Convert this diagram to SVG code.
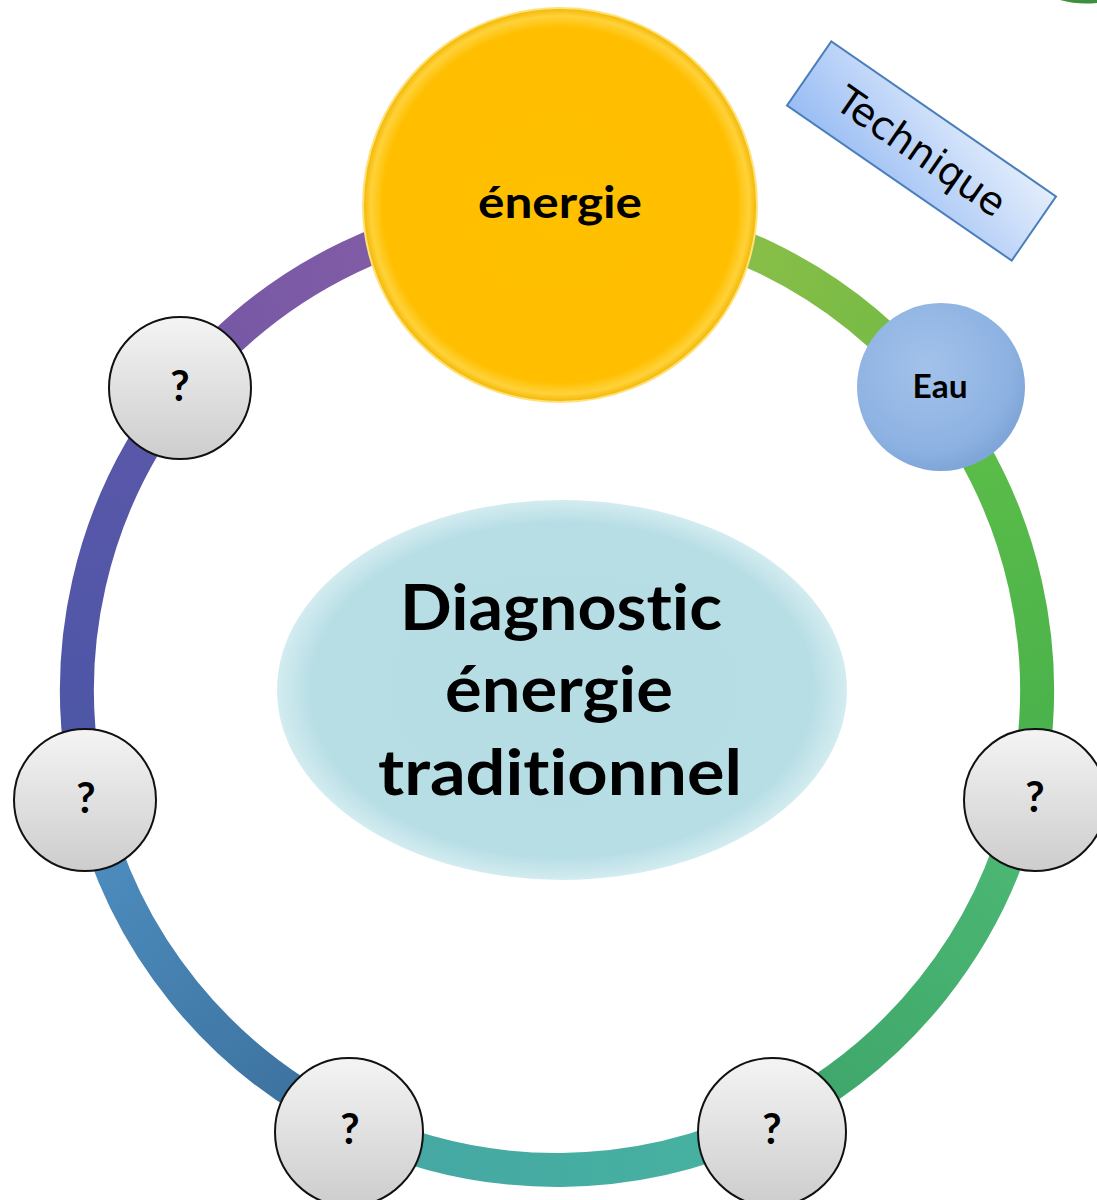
<svg xmlns="http://www.w3.org/2000/svg" width="1097" height="1200" viewBox="0 0 1097 1200">
  <defs>
    <style>
      .ring { fill: none; stroke-width: 34; stroke-linecap: butt; }
      .q { fill: url(#gQ); stroke: #111; stroke-width: 2; }
      .bold { font-family: Lato, "Open Sans", "Liberation Sans", sans-serif; font-weight: 700; fill: #000; text-anchor: middle; font-variant-ligatures: none; font-feature-settings: "liga" 0, "dlig" 0; }
      .qt { font-size: 42px; }
    </style>
    <linearGradient id="gQ" x1="0" y1="0" x2="0" y2="1">
      <stop offset="0" stop-color="#f4f4f4"/>
      <stop offset="1" stop-color="#cdcdcd"/>
    </linearGradient>
    <radialGradient id="gEn" cx="0.5" cy="0.5" r="0.5">
      <stop offset="0" stop-color="#ffc000"/>
      <stop offset="0.9" stop-color="#ffbf00"/>
      <stop offset="0.96" stop-color="#ffd23a"/>
      <stop offset="1" stop-color="#f2b600"/>
    </radialGradient>
    <radialGradient id="gEau" cx="0.42" cy="0.38" r="0.62">
      <stop offset="0" stop-color="#a3c2ea"/>
      <stop offset="0.8" stop-color="#8db2e2"/>
      <stop offset="1" stop-color="#7fa6d8"/>
    </radialGradient>
    <radialGradient id="gCen" cx="0.5" cy="0.5" r="0.5">
      <stop offset="0" stop-color="#b6dde4"/>
      <stop offset="0.88" stop-color="#b7dee5"/>
      <stop offset="1" stop-color="#d3ecf0"/>
    </radialGradient>
    <linearGradient id="gTech" x1="0" y1="1" x2="1" y2="0">
      <stop offset="0" stop-color="#98bcf4"/>
      <stop offset="1" stop-color="#e4eefc"/>
    </linearGradient>
    <linearGradient id="s1" gradientUnits="userSpaceOnUse" x1="557" y1="210" x2="933.7" y2="392.5">
      <stop offset="0" stop-color="#9cc14b"/><stop offset="1" stop-color="#70ba44"/>
    </linearGradient>
    <linearGradient id="s2" gradientUnits="userSpaceOnUse" x1="933.7" y1="392.5" x2="1024.7" y2="798">
      <stop offset="0" stop-color="#5ebf48"/><stop offset="1" stop-color="#47b04c"/>
    </linearGradient>
    <linearGradient id="s3" gradientUnits="userSpaceOnUse" x1="1024.7" y1="798" x2="767.4" y2="1121.4">
      <stop offset="0" stop-color="#4dba74"/><stop offset="1" stop-color="#3da46a"/>
    </linearGradient>
    <linearGradient id="s4" gradientUnits="userSpaceOnUse" x1="767.4" y1="1121.4" x2="354.2" y2="1125">
      <stop offset="0" stop-color="#47b3a0"/><stop offset="1" stop-color="#45a6a4"/>
    </linearGradient>
    <linearGradient id="s5" gradientUnits="userSpaceOnUse" x1="354.2" y1="1125" x2="89.3" y2="798">
      <stop offset="0" stop-color="#3a6e9a"/><stop offset="1" stop-color="#4f90c2"/>
    </linearGradient>
    <linearGradient id="s6" gradientUnits="userSpaceOnUse" x1="89.3" y1="798" x2="182.4" y2="389.9">
      <stop offset="0" stop-color="#4b56a6"/><stop offset="1" stop-color="#5c57a9"/>
    </linearGradient>
    <linearGradient id="s7" gradientUnits="userSpaceOnUse" x1="182.4" y1="389.9" x2="557" y2="210">
      <stop offset="0" stop-color="#7357a6"/><stop offset="1" stop-color="#8c5fa5"/>
    </linearGradient>
  </defs>

  <rect width="1097" height="1200" fill="#ffffff"/>

  <!-- partial green shape at top-right corner -->
  <path d="M1060 0 Q1078 5 1097 3 L1097 0 Z" fill="#3f8f3c"/>

  <g id="connectors">
    <path class="ring" stroke="url(#s1)" d="M557 210 A480 480 0 0 1 933.7 392.5"/>
    <path class="ring" stroke="url(#s2)" d="M933.7 392.5 A480 480 0 0 1 1024.7 798"/>
    <path class="ring" stroke="url(#s3)" d="M1024.7 798 A480 480 0 0 1 767.4 1121.4"/>
    <path class="ring" stroke="url(#s4)" d="M767.4 1121.4 A480 480 0 0 1 354.2 1125"/>
    <path class="ring" stroke="url(#s5)" d="M354.2 1125 A480 480 0 0 1 89.3 798"/>
    <path class="ring" stroke="url(#s6)" d="M89.3 798 A480 480 0 0 1 182.4 389.9"/>
    <path class="ring" stroke="url(#s7)" d="M182.4 389.9 A480 480 0 0 1 557 210"/>
  </g>

  <g id="node-center">
    <ellipse cx="562" cy="690" rx="285" ry="190" fill="url(#gCen)"/>
    <text class="bold" font-size="64" x="561" y="630" textLength="322" lengthAdjust="spacingAndGlyphs">Diagnostic</text>
    <text class="bold" font-size="64" x="559" y="712" textLength="228" lengthAdjust="spacingAndGlyphs">énergie</text>
    <text class="bold" font-size="64" x="560" y="795" textLength="364" lengthAdjust="spacingAndGlyphs">traditionnel</text>
  </g>

  <g id="node-energie">
    <circle cx="560" cy="205" r="197" fill="url(#gEn)" stroke="#ffe17a" stroke-width="2"/>
    <text class="bold" font-size="43" x="560" y="218" textLength="164" lengthAdjust="spacingAndGlyphs">énergie</text>
  </g>

  <g id="node-eau">
    <circle cx="941" cy="387" r="84" fill="url(#gEau)"/>
    <text class="bold" font-size="32" x="940" y="398" textLength="55" lengthAdjust="spacingAndGlyphs">Eau</text>
  </g>

  <g id="node-q1">
    <circle class="q" cx="180" cy="388" r="71"/>
    <text class="bold qt" x="180" y="401">?</text>
  </g>
  <g id="node-q2">
    <circle class="q" cx="85" cy="800" r="71"/>
    <text class="bold qt" x="86" y="813">?</text>
  </g>
  <g id="node-q3">
    <circle class="q" cx="349" cy="1132" r="74"/>
    <text class="bold qt" x="350" y="1144">?</text>
  </g>
  <g id="node-q4">
    <circle class="q" cx="772" cy="1132" r="74"/>
    <text class="bold qt" x="772" y="1144">?</text>
  </g>
  <g id="node-q5">
    <circle class="q" cx="1035" cy="800" r="71"/>
    <text class="bold qt" x="1035" y="812">?</text>
  </g>

  <g id="node-technique" transform="translate(921.5 151) rotate(34.6)">
    <rect x="-136.5" y="-39" width="273" height="78" fill="url(#gTech)" stroke="#4a7ebb" stroke-width="2"/>
    <text x="0" y="14" font-family="'DejaVu Sans', Verdana, sans-serif" font-size="39" fill="#000" text-anchor="middle">Technique</text>
  </g>
</svg>
